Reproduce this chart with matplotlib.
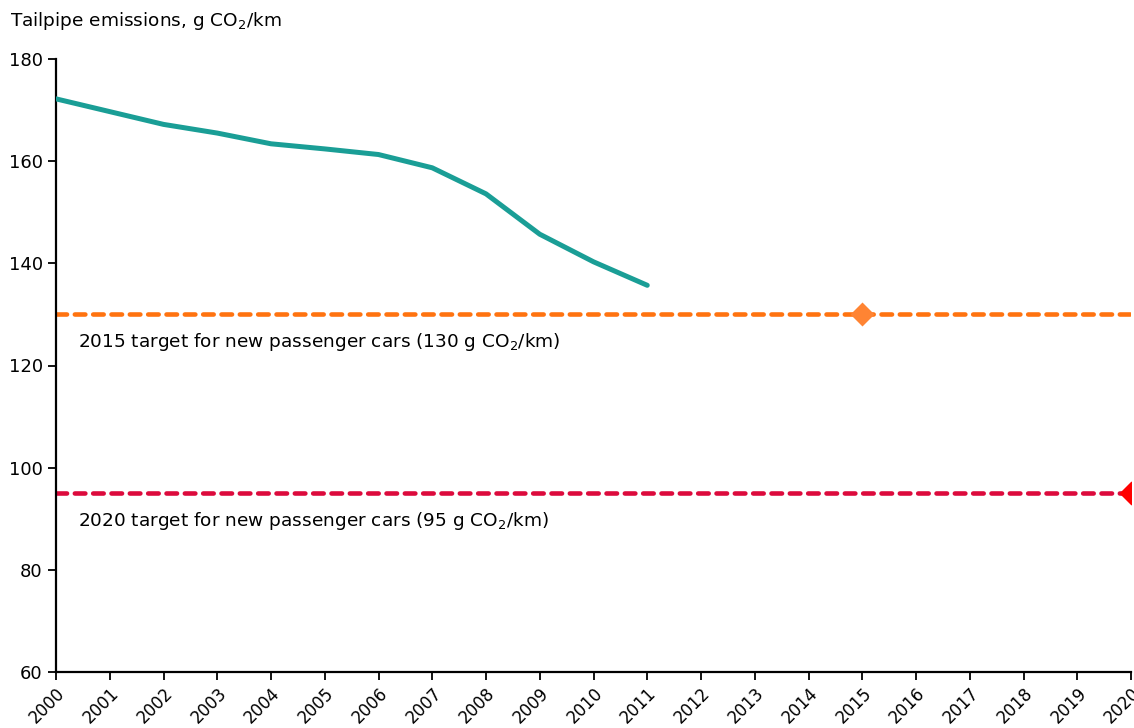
import matplotlib
matplotlib.use("Agg")
import matplotlib.pyplot as plt

years = list(range(2000, 2012))
emissions = [172.2, 169.7, 167.2, 165.5, 163.4, 162.4, 161.3, 158.7, 153.6, 145.7, 140.3, 135.7]
target_2015 = 130
target_2020 = 95
tick_years = list(range(2000, 2021))
y_ticks = [60, 80, 100, 120, 140, 160, 180]

plt.rcParams['font.family'] = ['DejaVu Sans']

fig = plt.figure(figsize=(11.34, 7.28), dpi=100)
ax = fig.add_axes([56/1134, 56/728, (1131-56)/1134, (672-59)/728])

ax.plot(years, emissions, color='#1A9E96', lw=3.6, solid_capstyle='round', solid_joinstyle='round', zorder=3)

ax.plot([2000, 2020], [target_2015]*2, color='#FF7310', lw=3.3, dashes=(2.3, 1.7),
        dash_capstyle='round', zorder=2)
ax.plot([2000, 2020], [target_2020]*2, color='#DC0A3C', lw=3.3, dashes=(2.3, 1.7),
        dash_capstyle='round', zorder=2)
ax.plot([2015], [target_2015], marker='D', color='#FF8433', ms=12, mec='none', zorder=4)
ax.plot([2020], [target_2020], marker='D', color='#FF0000', ms=12, mec='none', zorder=4)

ax.text(2000.4, 124.6, "2015 target for new passenger cars (130 g CO$_2$/km)",
        fontsize=13.3, va='center', ha='left')
ax.text(2000.4, 89.6, "2020 target for new passenger cars (95 g CO$_2$/km)",
        fontsize=13.3, va='center', ha='left')

ax.set_xlim(2000, 2020)
ax.set_ylim(60, 180)
ax.set_xticks(tick_years)
ax.set_xticklabels([str(y) for y in tick_years], rotation=45, ha='right', rotation_mode='anchor')
ax.set_yticks(y_ticks)
ax.tick_params(axis='both', labelsize=13, length=6, width=1.3, color='black')
ax.tick_params(axis='x', pad=3, labelsize=12)
for s in ['top', 'right']:
    ax.spines[s].set_visible(False)
for s in ['left', 'bottom']:
    ax.spines[s].set_linewidth(1.6)

fig.text(10/1134, 1 - 21/728, "Tailpipe emissions, g CO$_2$/km", fontsize=13.3, va='center', ha='left')

fig.savefig("out.png", dpi=100)
